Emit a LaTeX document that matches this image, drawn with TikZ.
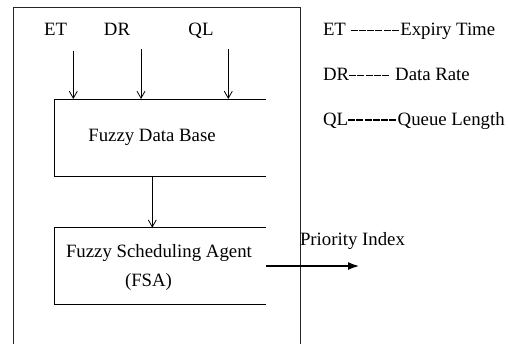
\documentclass[tikz,border=0pt]{standalone}
\usepackage{fontspec}
\setmainfont{Liberation Serif}
\usetikzlibrary{arrows.meta}
% one dash of the legend leaders
\newcommand\legdash{\rule[0.23em]{0.37em}{0.08em}\hspace{0.07em}}
\begin{document}
\begin{tikzpicture}[x=1pt,y=-1pt,
    every node/.style={inner sep=0pt, outer sep=0pt, font=\fontsize{18.8}{22}\selectfont},
    frame/.style={line width=0.9pt, draw=black!85},
    boxline/.style={line width=0.9pt, draw=black},
    area/.style={minimum width=212pt},
    inarrow/.style={line width=0.8pt, -{Straight Barb[length=7pt,width=8pt]}},
    outarrow/.style={line width=2.6pt, -{Latex[length=12pt,width=8pt]}},
    label/.style={anchor=base},
    txt/.style={anchor=base west}]
  \useasboundingbox (0,0) rectangle (508,343);
  \clip (0,0) rectangle (508,343);

  % outer frame, open towards the bottom
  \draw[frame] (13,350) -- (13,7.3) -- (300,7.3) -- (300,350);

  % the two blocks, open on their right side
  \node[area, minimum height=77.7pt] (fdb) at (160,137.85) {};
  \node[area, minimum height=76.6pt] (fsa) at (160,266) {};
  \draw[boxline] (fdb.north east) -- (fdb.north west) -- (fdb.south west) -- (fdb.south east);
  \draw[boxline] (fsa.north east) -- (fsa.north west) -- (fsa.south west) -- (fsa.south east);

  \node[txt] (fdbtext) at (88.3,141.5) {Fuzzy Data Base};
  \node[txt] (fsatext) at (66,257) {Fuzzy Scheduling Agent};
  \node[txt] (fsaabbr) at (125,286) {(FSA)};

  % inputs
  \node[label] (et) at (55.5,35.5) {ET};
  \node[label] (dr) at (117,35.5) {DR};
  \node[label] (ql) at (201,35.5) {QL};
  \coordinate (etin) at (73.3,50.5);
  \coordinate (drin) at (141,49.3);
  \coordinate (qlin) at (228.3,49.3);
  \draw[inarrow] (etin) -- (etin |- fdb.north);
  \draw[inarrow] (drin) -- (drin |- fdb.north);
  \draw[inarrow] (qlin) -- (qlin |- fdb.north);

  % data base to agent
  \coordinate (mid) at (152.3,0);
  \draw[inarrow] (mid |- fdb.south) -- (mid |- fsa.north);

  % output
  \coordinate (out) at (360,266);
  \draw[outarrow] (fsa.east) -- (out);
  \node[txt] (prio) at (300,245) {Priority Index};

  % legend
  \node[txt] (leg1) at (323,35.5) {ET \legdash\legdash\legdash\legdash\legdash\legdash Expiry Time};
  \node[txt] (leg2) at (323,80.5) {DR\legdash\legdash\legdash\legdash\legdash\ Data Rate};
  \node[txt] (leg3) at (323,125) {QL\legdash\legdash\legdash\legdash\legdash\legdash Queue Length};
\end{tikzpicture}
\end{document}
